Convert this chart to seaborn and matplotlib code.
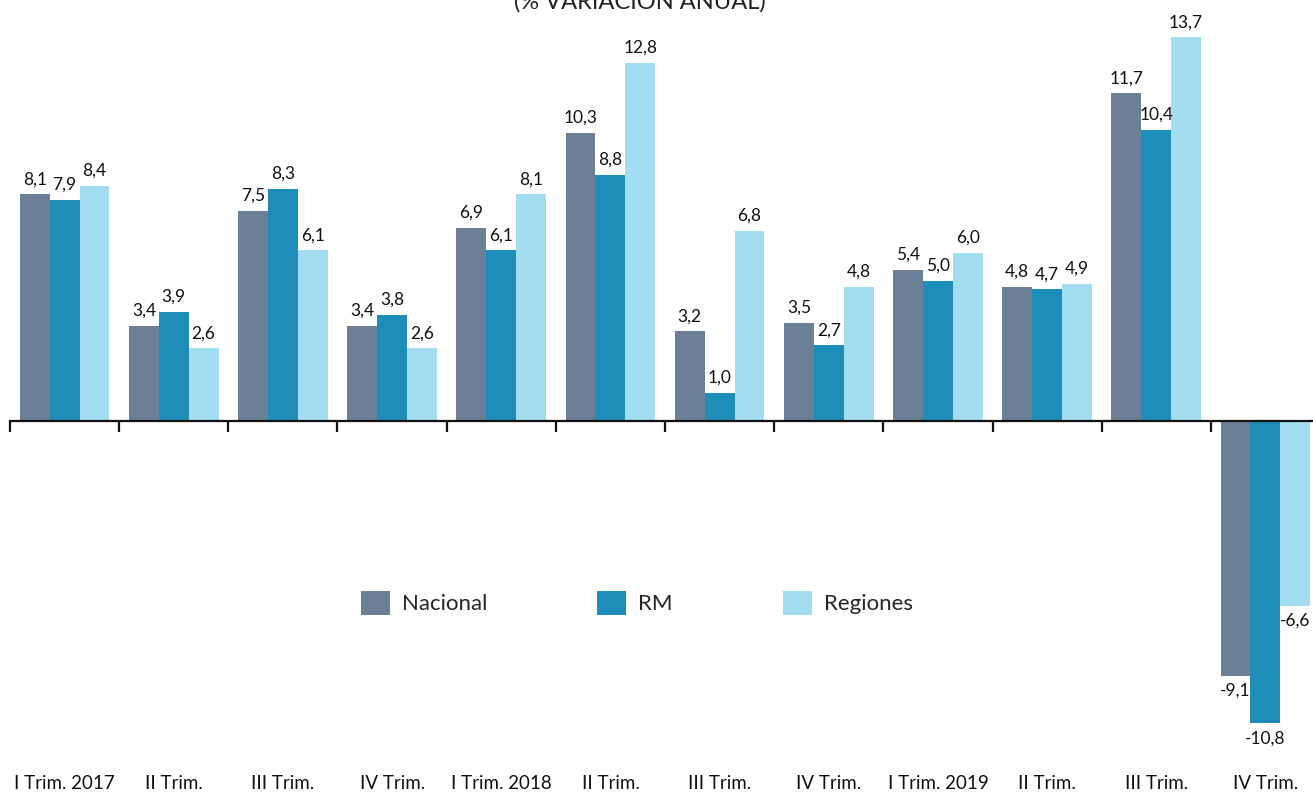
import pandas as pd
import matplotlib.pyplot as plt
import seaborn as sns
import numpy as np

# Quarters and annual variation (%)
trimestres = ['I Trim. 2017', 'II Trim.', 'III Trim.', 'IV Trim.',
              'I Trim. 2018', 'II Trim.', 'III Trim.', 'IV Trim.',
              'I Trim. 2019', 'II Trim.', 'III Trim.', 'IV Trim.']
nacional = [8.1, 3.4, 7.5, 3.4, 6.9, 10.3, 3.2, 3.5, 5.4, 4.8, 11.7, -9.1]
rm = [7.9, 3.9, 8.3, 3.8, 6.1, 8.8, 1.0, 2.7, 5.0, 4.7, 10.4, -10.8]
regiones = [8.4, 2.6, 6.1, 2.6, 8.1, 12.8, 6.8, 4.8, 6.0, 4.9, 13.7, -6.6]
series = ['Nacional', 'RM', 'Regiones']
colores = ['#6B8096', '#1E8DBA', '#A3DDF2']

# Long format for seaborn
df = pd.DataFrame({
    'pos': list(range(12)) * 3,
    'valor': nacional + rm + regiones,
    'serie': [s for s in series for _ in range(12)],
})

sns.set_style('white')
plt.rcParams['font.family'] = ['Lato', 'DejaVu Sans']

fig = plt.figure(figsize=(13.13, 7.94), dpi=100)
# axes stretched over whole height; x runs a bit past the right edge
ax = fig.add_axes([10 / 1313, 0, 1310 / 1313, 1])

sns.barplot(data=df, x='pos', y='valor', hue='serie', hue_order=series,
            palette=colores, saturation=1, errorbar=None, width=0.82,
            linewidth=0, ax=ax)

ax.set_xlim(-0.5, 11.5)
ax.set_ylim(-373 / 28, 421 / 28)

# value labels with comma decimals
for cont, vals in zip(ax.containers, [nacional, rm, regiones]):
    ax.bar_label(cont, labels=[f'{v:.1f}'.replace('.', ',') for v in vals],
                 padding=5, fontsize=12.5, color='#111111')

# zero line with ticks at group boundaries
for s in ['top', 'right', 'left']:
    ax.spines[s].set_visible(False)
ax.spines['bottom'].set_position(('data', 0))
ax.spines['bottom'].set_linewidth(1.6)
ax.spines['bottom'].set_color('#111111')
ax.set_xticks(np.arange(-0.5, 12, 1))
ax.set_xticklabels([])
ax.tick_params(axis='x', bottom=True, direction='out', length=8, width=1.6,
               color='#111111')
ax.set_yticks([])
ax.set_xlabel('')
ax.set_ylabel('')

# category labels along the bottom
for i, t in enumerate(trimestres):
    ax.text(i, -12.95, t, ha='center', va='center', fontsize=13.5, color='#111111')

# title (cut off at the top edge, as in the source)
fig.text(640 / 1313, 1.0, '(% VARIACIÓN ANUAL)', ha='center', va='center',
         fontsize=17, color='#222222')

ax.legend(loc='center', bbox_to_anchor=(637 / 1313, 1 - 603 / 794),
          bbox_transform=fig.transFigure, ncol=3, frameon=False,
          fontsize=16, handlelength=1.3, handleheight=1.3,
          handletextpad=0.55, columnspacing=4.95)

fig.savefig('out.png', dpi=100)
